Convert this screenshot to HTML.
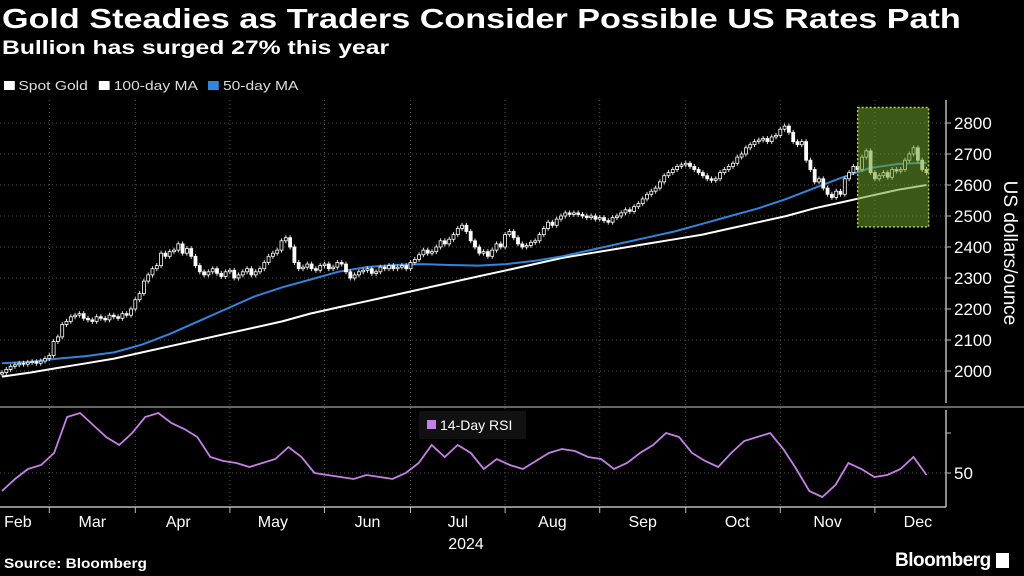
<!DOCTYPE html>
<html><head><meta charset="utf-8"><style>
html,body{margin:0;padding:0;background:#000;}
body{width:1024px;height:576px;overflow:hidden;position:relative;font-family:"Liberation Sans",sans-serif;color:#fff;}
.t{position:absolute;white-space:nowrap;transform-origin:0 0;}
</style></head><body>
<div class="t" style="left:2px;top:3px;font-size:28px;font-weight:bold;transform:scaleX(1.22);">Gold Steadies as Traders Consider Possible US Rates Path</div>
<div class="t" style="left:2px;top:38px;font-size:19px;font-weight:bold;transform:scaleX(1.3);">Bullion has surged 27% this year</div>
<div class="t" style="left:4px;top:78px;font-size:13px;color:#ddd;transform:scaleX(1.2);">
<span><span style="display:inline-block;width:9px;height:9px;background:#fff;margin-right:3px;"></span>Spot Gold</span>
<span style="margin-left:6px;"><span style="display:inline-block;width:9px;height:9px;background:#fff;margin-right:3px;"></span>100-day MA</span>
<span style="margin-left:6px;"><span style="display:inline-block;width:9px;height:9px;background:#2f86dc;margin-right:3px;"></span>50-day MA</span>
</div>
<svg id="chart" width="1024" height="576" style="position:absolute;left:0;top:0;" font-family="Liberation Sans, sans-serif"></svg>
<div class="t" style="left:4px;top:555px;font-size:14px;font-weight:bold;transform:scaleX(1.1);">Source: Bloomberg</div>
<div class="t" style="left:895px;top:550px;font-size:19px;font-weight:bold;letter-spacing:-0.5px;">Bloomberg <span style="display:inline-block;width:13px;height:15px;background:#fff;vertical-align:-2px;"></span></div>
<script>
const closes=[1995,2005,2015,2020,2025,2022,2028,2030,2025,2032,2040,
2050,2095,2110,2150,2160,2175,2180,
2185,2170,2165,2160,2175,2170,2165,2180,2175,2170,2185,2180,2200,
2230,2250,2290,2310,2330,2340,2380,2370,2385,2390,2410,
2380,2395,2370,2340,2320,
2310,2320,2330,2315,2305,2320,2325,2300,2310,2320,2330,2310,2320,2330,
2350,2370,2380,2390,2420,2430,2400,2350,2330,
2335,2345,2330,2325,2340,2345,2330,2335,2350,2345,2320,
2300,2310,2320,2325,2330,2315,2320,2335,2330,2340,2330,2335,2340,
2330,2350,2360,2375,2390,2380,2385,2400,2420,2410,2425,2440,
2460,2470,2450,2420,2400,2380,2385,2370,
2390,2410,2400,2440,2450,2430,2410,2400,2405,
2415,2420,2440,2460,2480,2470,2490,2500,2510,2505,
2510,2505,2500,2495,2500,2490,2495,2485,2480,
2495,2500,2510,2520,2515,2530,2540,
2555,2570,2580,2590,2610,2630,2640,2650,2660,
2665,2670,2660,2650,2640,2630,2620,2615,2620,
2640,2650,2660,2670,2690,2700,2720,2730,2740,2745,
2750,2740,2755,2760,2780,2790,2770,2740,
2730,2740,2680,2650,2610,2620,2590,2570,2560,2580,2570,
2620,2640,2660,2650,2690,2710,2640,2620,2630,
2640,2625,2650,2645,2650,2680,2700,2720,2680,2650,2640];
const ma100=[1982,1995,2010,2025,2040,2060,2080,2100,2120,2140,2160,2185,2205,2225,2245,2265,2285,2305,2325,2345,2365,2380,2395,2410,2425,2440,2460,2480,2500,2525,2545,2565,2585,2600];
const ma50=[2025,2030,2040,2048,2060,2085,2120,2160,2200,2240,2270,2295,2320,2335,2342,2345,2342,2340,2345,2355,2370,2390,2410,2430,2450,2475,2500,2525,2555,2590,2625,2655,2668,2672];
const rsi=[41,47,52,54,60,78,80,74,68,64,70,78,80,75,72,68,58,56,55,53,55,57,63,58,50,49,48,47,49,48,47,50,55,64,58,64,60,52,57,54,52,56,60,62,61,58,57,52,55,60,64,70,68,60,56,53,60,66,68,70,62,52,41,38,44,55,52,48,49,52,58,49];
const priceTicks=[2000,2100,2200,2300,2400,2500,2600,2700,2800];
const rsiTicks=[50,70];
const monthStarts=[11,31,53,75,95,117,139,159,181,203];
const monthNames=["Feb","Mar","Apr","May","Jun","Jul","Aug","Sep","Oct","Nov","Dec"];
const monthLabelDays=[3.7,21,41,63,85,106,128,149,171,192,213];
const highlightStart=199, highlightEnd=215.5, highlightLow=2465, highlightHigh=2850;

const N=closes.length;
const X=i=>2+i*4.3;
const Y=v=>123+(2800-v)*0.31;
const R=v=>473-(v-50)*2;
const svg=document.getElementById('chart');
const NS='http://www.w3.org/2000/svg';
function mk(tag,attrs,parent){const e=document.createElementNS(NS,tag);for(const k in attrs)e.setAttribute(k,attrs[k]);(parent||svg).appendChild(e);return e;}

priceTicks.forEach(v=>{
  const l=mk('line',{x1:0,x2:946,y1:Y(v),y2:Y(v),stroke:'#555','stroke-dasharray':'1,3'});
  
  
  const tk=mk('line',{x1:946,x2:951,y1:Y(v),y2:Y(v),stroke:'#bbb'});
  
  
  const t=mk('text',{x:954,y:Y(v)+6,fill:'#fff','font-size':17});
  t.textContent=v;
  
  
});
monthStarts.forEach(d=>{
  const l=mk('line',{x1:X(d),x2:X(d),y1:100,y2:507,stroke:'#555','stroke-dasharray':'1,3'});
  
  
  const tk=mk('line',{x1:X(d),x2:X(d),y1:507,y2:513,stroke:'#bbb'});
  
  
});
monthNames.forEach((m,i)=>{
  const t=mk('text',{x:X(monthLabelDays[i]),y:527,fill:'#fff','font-size':16,'text-anchor':'middle'});
  t.textContent=m;
  
  
});
const yr=mk('text',{x:466,y:549,fill:'#fff','font-size':16,'text-anchor':'middle'});
yr.textContent='2024';



let a=mk('line',{x1:946,x2:946,y1:100,y2:403,stroke:'#bbb','stroke-width':1.5});


a=mk('line',{x1:0,x2:1024,y1:407,y2:407,stroke:'#666','stroke-width':2});


a=mk('line',{x1:946,x2:946,y1:410,y2:507,stroke:'#bbb','stroke-width':1.5});


a=mk('line',{x1:0,x2:946,y1:507,y2:507,stroke:'#bbb','stroke-width':1.5});


const at=mk('text',{x:1004,y:253,fill:'#fff','font-size':19,'text-anchor':'middle',transform:'rotate(90 1004 253)'});
at.textContent='US dollars/ounce';


rsiTicks.forEach(v=>{
  const l=mk('line',{x1:0,x2:946,y1:R(v),y2:R(v),stroke:v===50?'#555':'none','stroke-dasharray':'1,3'});
  
  
  const tk=mk('line',{x1:946,x2:951,y1:R(v),y2:R(v),stroke:'#bbb'});
  
  
  if(v===50){const t=mk('text',{x:954,y:R(v)+6,fill:'#fff','font-size':17});t.textContent=v;
  
  }
});

function seriesPath(arr,fy){const step=(N-1)/(arr.length-1);return arr.map((v,i)=>(i?'L':'M')+X(i*step).toFixed(1)+','+fy(v).toFixed(1)).join('');}
const m100=mk('path',{d:seriesPath(ma100,Y),fill:'none',stroke:'#fff','stroke-width':2});


const m50=mk('path',{d:seriesPath(ma50,Y),fill:'none',stroke:'#2f86dc','stroke-width':2});



closes.forEach((c,i)=>{
  const o=i?closes[i-1]:c-5;
  const hi=Math.max(o,c)+8, lo=Math.min(o,c)-8;
  const g=mk('g',{});
  
  
  mk('line',{x1:X(i),x2:X(i),y1:Y(hi),y2:Y(lo),stroke:'#ddd','stroke-width':1},g);
  const top=Y(Math.max(o,c)),bot=Y(Math.min(o,c));
  mk('rect',{x:X(i)-1.5,y:top,width:3,height:Math.max(1,bot-top),fill:c>=o?'#000':'#fff',stroke:'#fff','stroke-width':0.8},g);
});

const hl=mk('rect',{x:X(highlightStart),y:Y(highlightHigh),width:X(highlightEnd)-X(highlightStart),height:Y(highlightLow)-Y(highlightHigh),fill:'rgba(110,160,40,0.55)',stroke:'#a8d24a','stroke-dasharray':'2,2','stroke-width':1.5});



const rp=mk('path',{d:seriesPath(rsi,R),fill:'none',stroke:'#c77fe8','stroke-width':1.8});


const lb=mk('rect',{x:419,y:411,width:107,height:28,fill:'#111'});


const ls=mk('rect',{x:427,y:420,width:9,height:9,fill:'#c77fe8'});


const lt=mk('text',{x:440,y:430,fill:'#fff','font-size':14});
lt.textContent='14-Day RSI';


</script>
</body></html>
